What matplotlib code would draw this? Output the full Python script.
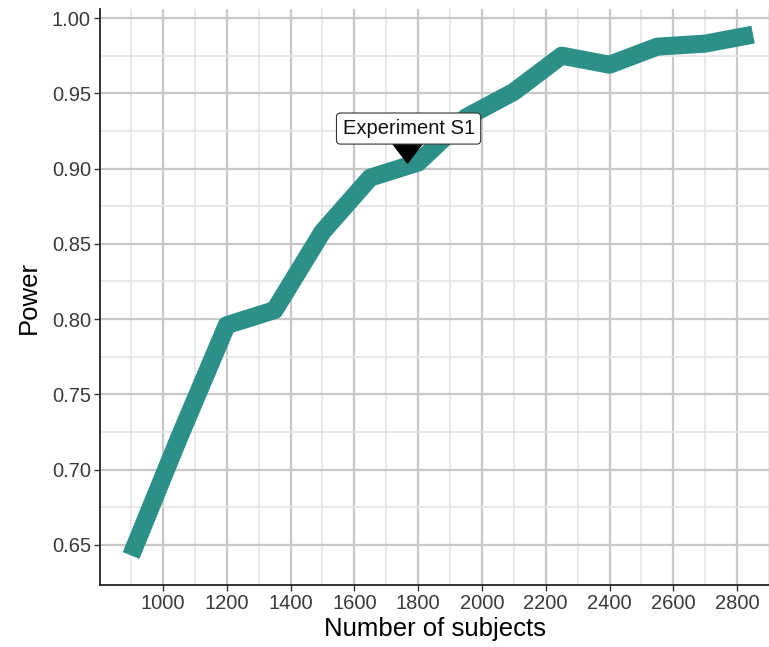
import matplotlib
matplotlib.use("Agg")
import matplotlib.pyplot as plt
from matplotlib.path import Path
import numpy as np

plt.rcParams['font.family'] = ['Liberation Sans', 'DejaVu Sans']

subjects = [900, 1050, 1200, 1350, 1500, 1650, 1800, 1950, 2100, 2250, 2400, 2550, 2700, 2850]
power = [0.643, 0.721, 0.796, 0.806, 0.858, 0.894, 0.904, 0.934, 0.951, 0.975, 0.969, 0.981, 0.983, 0.989]
x_ticks = [1000, 1200, 1400, 1600, 1800, 2000, 2200, 2400, 2600, 2800]
y_ticks = [0.65, 0.70, 0.75, 0.80, 0.85, 0.90, 0.95, 1.00]
annot_label = "Experiment S1"
annot_x = 1766
annot_y_marker = 0.9106
annot_y_text = 0.9266

W, H = 769, 647
fig = plt.figure(figsize=(W/100, H/100), dpi=100)
ax = fig.add_axes([100/W, (H-585)/H, (W-100)/W, (585-9)/H])

ax.set_xlim(802.5, 2897)
ax.set_ylim(0.6234, 1.006)

ax.set_xticks(x_ticks)
ax.set_xticks(np.arange(900, 2901, 200), minor=True)
ax.set_yticks(y_ticks)
ax.set_yticks(np.arange(0.675, 1.0, 0.05), minor=True)
ax.set_xticklabels([str(v) for v in x_ticks])
ax.set_yticklabels([f"{v:.2f}" for v in y_ticks])

ax.grid(True, which='major', color='#c8c8c8', linewidth=1.6)
ax.grid(True, which='minor', color='#e4e4e4', linewidth=1.2)
ax.set_axisbelow(True)

ax.plot(subjects, power, color='#2C9088', linewidth=13, solid_capstyle='butt',
        solid_joinstyle='round', zorder=3)

tri = Path([(-1, 0.66), (1, 0.66), (0, -0.66), (-1, 0.66)],
           [Path.MOVETO, Path.LINETO, Path.LINETO, Path.CLOSEPOLY])
ax.plot([annot_x], [annot_y_marker], marker=tri, color='black', markersize=21,
        linestyle='none', zorder=4)
ax.text(annot_x + 4, annot_y_text, annot_label, ha='center', va='center', fontsize=14.5,
        color='#111111', zorder=5,
        bbox=dict(boxstyle='round,pad=0.3,rounding_size=0.2', facecolor='white',
                  edgecolor='#333333', linewidth=0.8))

for s in ['top', 'right']:
    ax.spines[s].set_visible(False)
for s in ['left', 'bottom']:
    ax.spines[s].set_color('#222222')
    ax.spines[s].set_linewidth(1.3)

ax.tick_params(axis='both', which='major', length=4.5, width=1, color='#333333',
               labelsize=14.5, labelcolor='#3a3a3a', pad=2)
ax.tick_params(axis='both', which='minor', length=0)

ax.set_xlabel("Number of subjects", fontsize=18.5, color='black', labelpad=3)
ax.set_ylabel("Power", fontsize=18.5, color='black', labelpad=8)

fig.savefig("out.png", dpi=100)
